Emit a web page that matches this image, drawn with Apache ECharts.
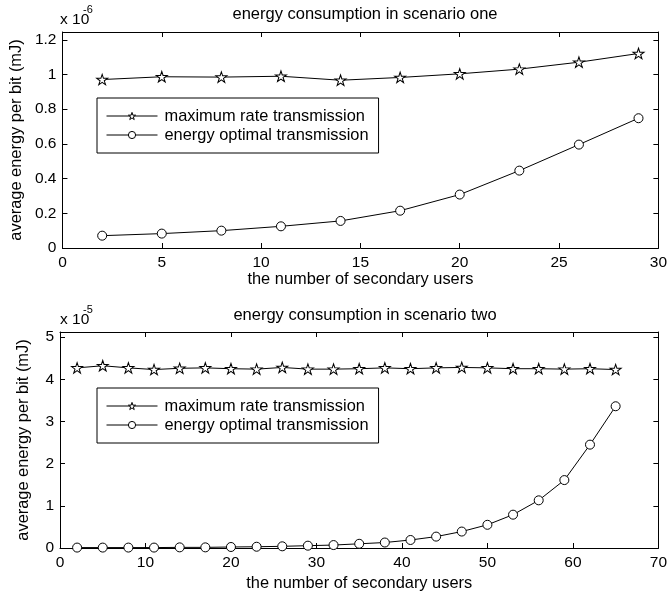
<!DOCTYPE html>
<html>
<head>
<meta charset="utf-8">
<script src="https://cdn.jsdelivr.net/npm/echarts@6/dist/echarts.min.js"></script>
<style>
html,body{margin:0;padding:0;background:#fff;}
#chart{width:670px;height:597px;}
</style>
</head>
<body>
<div id="chart"></div>
<script>
// ---- data ----
var titleTop = 'energy consumption in scenario one';
var titleBottom = 'energy consumption in scenario two';
var xName = 'the number of secondary users';
var yName = 'average energy per bit (mJ)';
var seriesNames = ['maximum rate transmission', 'energy optimal transmission'];

var usersTop = [2, 5, 8, 11, 14, 17, 20, 23, 26, 29];
var maxRateTop = [0.971, 0.987, 0.985, 0.990, 0.967, 0.983, 1.004, 1.031, 1.071, 1.121];
var optimalTop = [0.071, 0.083, 0.100, 0.125, 0.156, 0.215, 0.308, 0.446, 0.596, 0.748];

var usersBottom = [2, 5, 8, 11, 14, 17, 20, 23, 26, 29, 32, 35, 38, 41, 44, 47, 50, 53, 56, 59, 62, 65];
var maxRateBottom = [4.27, 4.32, 4.27, 4.23, 4.26, 4.27, 4.25, 4.24, 4.28, 4.24, 4.24, 4.25, 4.27, 4.25, 4.27, 4.28, 4.27, 4.25, 4.25, 4.24, 4.25, 4.23];
var optimalBottom = [0.01, 0.01, 0.01, 0.01, 0.015, 0.015, 0.024, 0.03, 0.04, 0.055, 0.07, 0.10, 0.13, 0.19, 0.27, 0.39, 0.55, 0.79, 1.13, 1.61, 2.45, 3.36];

var exponentTop = '-6';
var exponentBottom = '-5';

// ---- helpers ----
function pairs(xs, ys) { return xs.map(function (x, i) { return [x, ys[i]]; }); }
var FONT = 'Liberation Sans, Arial, Helvetica, sans-serif';
var starPath = 'path://M50,0 L61.2,34.5 L97.5,34.5 L68.2,55.9 L79.4,90.5 L50,69.1 L20.6,90.5 L31.8,55.9 L2.5,34.5 L38.8,34.5 Z';

function xAxes(grid, max, interval, nameGap) {
  return [{
    type: 'value', gridIndex: grid, position: 'bottom', min: 0, max: max, interval: interval,
    name: xName, nameLocation: 'middle', nameGap: nameGap,
    nameTextStyle: { color: '#000', fontSize: 16.4, fontFamily: FONT },
    axisLine: { onZero: false, lineStyle: { color: '#000', width: 1 } },
    axisTick: { inside: true, length: 5, lineStyle: { color: '#000' } },
    axisLabel: { color: '#000', fontSize: 15.5, fontFamily: FONT, margin: 7 },
    splitLine: { show: false }
  }, {
    type: 'value', gridIndex: grid, position: 'top', min: 0, max: max, interval: interval,
    axisLine: { onZero: false, lineStyle: { color: '#000', width: 1 } },
    axisTick: { inside: true, length: 5, lineStyle: { color: '#000' } },
    axisLabel: { show: false },
    splitLine: { show: false }
  }];
}
function yAxes(grid, max, interval) {
  return [{
    type: 'value', gridIndex: grid, position: 'left', min: 0, max: max, interval: interval,
    name: yName, nameLocation: 'middle', nameGap: 29,
    nameTextStyle: { color: '#000', fontSize: 16.4, fontFamily: FONT },
    axisLine: { onZero: false, lineStyle: { color: '#000', width: 1 } },
    axisTick: { inside: true, length: 5, lineStyle: { color: '#000' } },
    axisLabel: { color: '#000', fontSize: 15.5, fontFamily: FONT, margin: 6, showMaxLabel: false },
    splitLine: { show: false }
  }, {
    type: 'value', gridIndex: grid, position: 'right', min: 0, max: max, interval: interval,
    axisLine: { onZero: false, lineStyle: { color: '#000', width: 1 } },
    axisTick: { inside: true, length: 5, lineStyle: { color: '#000' } },
    axisLabel: { show: false },
    splitLine: { show: false }
  }];
}
function lineSeries(name, data, xi, yi, symbol, size) {
  return {
    type: 'line', name: name, data: data, xAxisIndex: xi, yAxisIndex: yi,
    symbol: symbol, symbolSize: size, showAllSymbol: true,
    lineStyle: { color: '#000', width: 1 },
    itemStyle: { color: '#fff', borderColor: '#000', borderWidth: 1 },
    emphasis: { disabled: true }, z: 3
  };
}
function legendAt(top) {
  return {
    left: 97, top: top, orient: 'vertical',
    data: seriesNames,
    itemWidth: 51, itemHeight: 9, itemGap: 3,
    padding: [10, 10, 10, 9],
    borderColor: '#000', borderWidth: 1, borderRadius: 0, backgroundColor: '#fff',
    itemStyle: { color: '#fff', borderColor: '#000', borderWidth: 1 },
    lineStyle: { color: '#000', width: 1 },
    textStyle: { color: '#000', fontSize: 16.4, fontFamily: FONT, padding: [0, 0, 0, 2] },
    selectedMode: false
  };
}

var chart = echarts.init(document.getElementById('chart'), null, { renderer: 'canvas' });
chart.setOption({
  animation: false,
  backgroundColor: '#fff',
  title: [
    { text: titleTop, left: 360, textAlign: 'center', top: 1, textStyle: { color: '#000', fontSize: 16.5, fontWeight: 'normal', fontFamily: FONT } },
    { text: titleBottom, left: 360, textAlign: 'center', top: 302, textStyle: { color: '#000', fontSize: 16.5, fontWeight: 'normal', fontFamily: FONT } }
  ],
  grid: [
    { left: 60, top: 32, width: 600, height: 216, containLabel: false },
    { left: 60, top: 332, width: 600, height: 216, containLabel: false }
  ],
  xAxis: [].concat(xAxes(0, 30, 5, 12), xAxes(1, 70, 10, 27)),
  yAxis: [].concat(yAxes(0, 1.245, 0.2), yAxes(1, 5.12, 1)),
  legend: [legendAt(98), legendAt(388)],
  series: [
    lineSeries(seriesNames[0], pairs(usersTop, maxRateTop), 0, 0, starPath, [11, 10.5]),
    lineSeries(seriesNames[1], pairs(usersTop, optimalTop), 0, 0, 'circle', 9),
    lineSeries(seriesNames[0], pairs(usersBottom, maxRateBottom), 2, 2, starPath, [11, 10.5]),
    lineSeries(seriesNames[1], pairs(usersBottom, optimalBottom), 2, 2, 'circle', 9)
  ],
  graphic: [
    { type: 'text', left: 60, top: 12, style: { text: 'x 10', fill: '#000', fontSize: 15.5, fontFamily: FONT } },
    { type: 'text', left: 83, top: 4, style: { text: exponentTop, fill: '#000', fontSize: 11, fontFamily: FONT } },
    { type: 'text', left: 60, top: 312, style: { text: 'x 10', fill: '#000', fontSize: 15.5, fontFamily: FONT } },
    { type: 'text', left: 83, top: 304, style: { text: exponentBottom, fill: '#000', fontSize: 11, fontFamily: FONT } }
  ]
});
</script>
</body>
</html>
